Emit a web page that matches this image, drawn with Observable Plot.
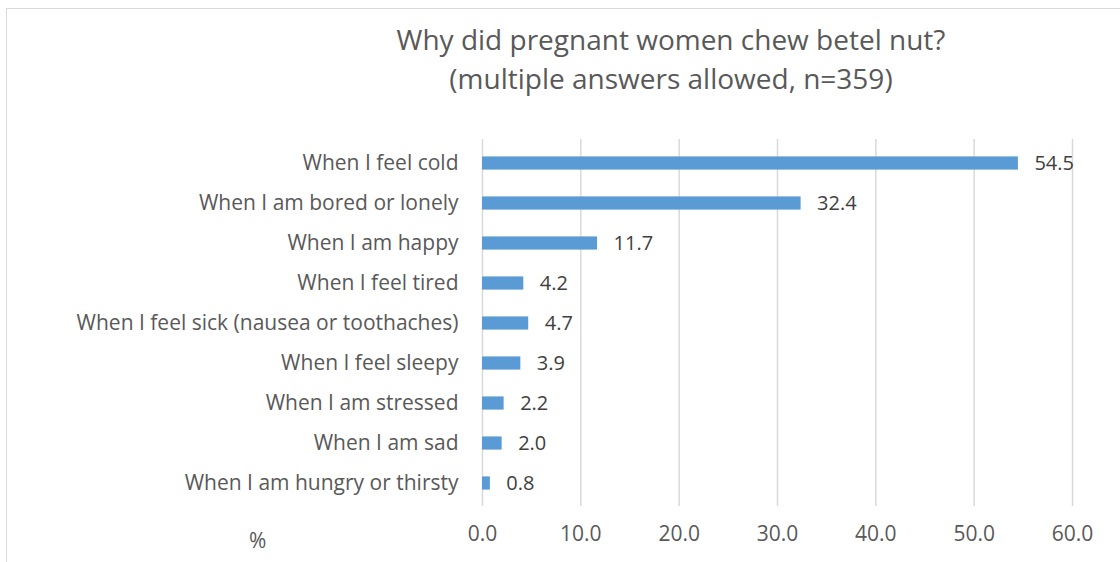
<!DOCTYPE html>
<html><head><meta charset="utf-8">
<script src="https://cdn.jsdelivr.net/npm/d3@7"></script>
<script src="https://cdn.jsdelivr.net/npm/@observablehq/plot@0.6"></script>
<style>
body{margin:0;background:#fff;font-family:"Open Sans",sans-serif;}
#wrap{position:relative;width:1120px;height:562px;overflow:hidden;}
#frame{position:absolute;left:6px;top:8px;width:1200px;height:700px;border:1.5px solid #d9d9d9;box-sizing:border-box;}
#title{position:absolute;left:221px;width:900px;top:20px;text-align:center;font-size:28px;line-height:39px;color:#595959;}
#unit{position:absolute;left:249px;top:526px;font-size:21px;color:#595959;}
#chart{position:absolute;left:0;top:0;}
</style></head>
<body>
<div id="wrap">
<div id="frame"></div>
<div id="chart"></div>
<div id="title">Why did pregnant women chew betel nut?<br>(multiple answers allowed, n=359)</div>
<div id="unit">%</div>
</div>
<script>
const reasons = ["When I feel cold","When I am bored or lonely","When I am happy","When I feel tired","When I feel sick (nausea or toothaches)","When I feel sleepy","When I am stressed","When I am sad","When I am hungry or thirsty"];
const percents = [54.5,32.4,11.7,4.2,4.7,3.9,2.2,2.0,0.8];
const xTicks = [0,10,20,30,40,50,60];
const data = reasons.map((r,i)=>({reason:r, value:percents[i]}));
const fmt = d3.format(".1f");
const plot = Plot.plot({
  width:1120, height:562,
  marginLeft:482, marginRight:48, marginTop:139, marginBottom:56,
  style:{fontFamily:"'Open Sans', sans-serif", fontSize:"21px", color:"#595959", background:"transparent"},
  x:{domain:[0,60], ticks:xTicks, tickFormat:fmt, label:null},
  y:{domain:reasons, padding:0, label:null},
  marks:[
    Plot.gridX(xTicks,{stroke:"#d9d9d9", strokeOpacity:1, strokeWidth:1.5}),
    Plot.barX(data,{x:"value", y:"reason", fill:"#5b9bd5", insetTop:13.4, insetBottom:13.4}),
    Plot.text(data,{x:"value", y:"reason", text:d=>fmt(d.value), textAnchor:"start", dx:16, fill:"#404040", fontSize:20}),
    Plot.axisX({ticks:xTicks, tickFormat:fmt, tickSize:0, tickPadding:20, label:null, fill:"#595959", fontSize:21}),
    Plot.axisY({tickSize:0, tickPadding:24, label:null, fill:"#595959", fontSize:21})
  ]
});
document.getElementById("chart").appendChild(plot);
</script>
</body></html>
